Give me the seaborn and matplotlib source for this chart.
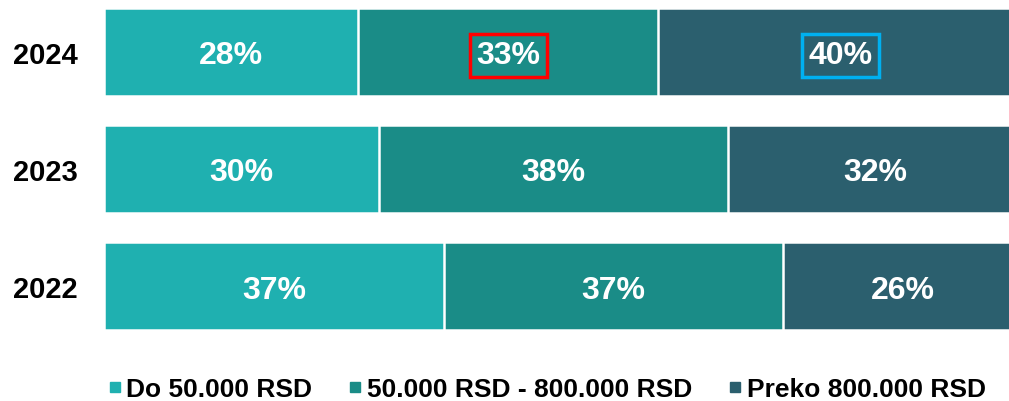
import pandas as pd
import matplotlib.pyplot as plt
import seaborn as sns
from matplotlib.lines import Line2D

years = ['2024', '2023', '2022']
do_50k = [28, 30, 37]
mid_range = [33, 38, 37]
preko_800k = [40, 32, 26]
series_names = ['Do 50.000 RSD', '50.000 RSD - 800.000 RSD', 'Preko 800.000 RSD']
colors = ['#1fb0b0', '#1a8c87', '#2b5f6e']

sns.set_theme(style='white')
plt.rcParams['font.family'] = ['Liberation Sans', 'DejaVu Sans']

df = pd.DataFrame({'year': years, 'a': do_50k, 'b': mid_range, 'c': preko_800k})
totals = df[['a', 'b', 'c']].sum(axis=1)
# stack as shares of each row (2024 adds up to 101)
df['cum1'] = df['a'] / totals * 100
df['cum2'] = (df['a'] + df['b']) / totals * 100
df['cum3'] = 100.0

fig = plt.figure(figsize=(10.09, 4.02), dpi=100)
# the original chart is cut off on the right, so the axes run past the figure edge
ax = fig.add_axes([104 / 1009, 1 - 331 / 402, 918 / 1009, 322 / 402])

for col, color in zip(['cum3', 'cum2', 'cum1'], colors[::-1]):
    sns.barplot(data=df, x=col, y='year', order=years, color=color, width=0.75,
                edgecolor='white', linewidth=1.8, saturation=1, ax=ax)

ax.set_xlim(0, 100)
ax.set_ylim(2.375, -0.375)
ax.set_xlabel('')
ax.set_ylabel('')
ax.set_xticks([])
ax.tick_params(axis='y', length=0, pad=19)
for lbl in ax.get_yticklabels():
    lbl.set_fontsize(21)
    lbl.set_fontweight('bold')
    lbl.set_color('black')
sns.despine(ax=ax, left=True, bottom=True)

boxes = {(0, 1): '#ff0000', (0, 2): '#00b0f0'}
for i, row in df.iterrows():
    starts = [0, row['cum1'], row['cum2']]
    ends = [row['cum1'], row['cum2'], row['cum3']]
    vals = [row['a'], row['b'], row['c']]
    for j in range(3):
        kw = {}
        if (i, j) in boxes:
            kw['bbox'] = dict(boxstyle='square,pad=0.2', facecolor='none',
                              edgecolor=boxes[(i, j)], linewidth=2.5)
        ax.text((starts[j] + ends[j]) / 2, i, f'{vals[j]}%', ha='center', va='center_baseline',
                color='white', fontsize=23, fontweight='bold', **kw)

handles = [Line2D([], [], marker='s', linestyle='none', markersize=7.5, color=c) for c in colors]
fig.legend(handles, series_names, loc='center', bbox_to_anchor=(0.5425, 0.03), ncol=3,
           frameon=False, handlelength=0.45, handletextpad=0.22, columnspacing=1.4,
           borderpad=0, prop={'size': 19, 'weight': 'bold'}, labelcolor='black')

fig.savefig('out.png', dpi=100)
